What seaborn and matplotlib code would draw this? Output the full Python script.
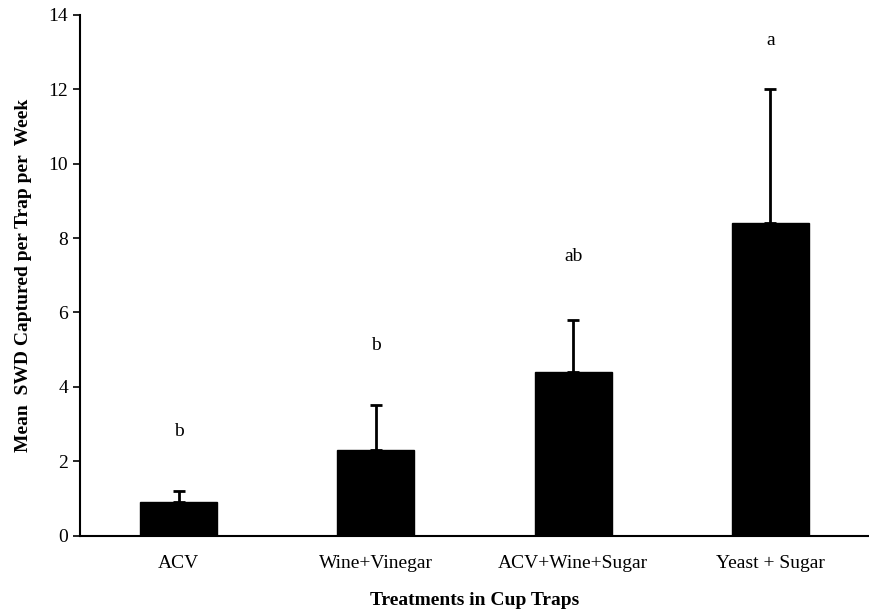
import numpy as np
import pandas as pd
import matplotlib
matplotlib.use("Agg")
import matplotlib.pyplot as plt
import seaborn as sns

# Data
treatments = ["ACV", "Wine+Vinegar", "ACV+Wine+Sugar", "Yeast + Sugar"]
means = [0.9, 2.3, 4.4, 8.4]
se = [0.3, 1.2, 1.4, 3.6]
letters = ["b", "b", "ab", "a"]
letter_y = [2.8, 5.1, 7.5, 13.3]

df = pd.DataFrame({"Treatment": treatments, "Mean": means})

sns.set_theme(style="white")
plt.rcParams["font.family"] = ["Liberation Serif", "DejaVu Serif"]
plt.rcParams["text.color"] = "black"
plt.rcParams["axes.labelcolor"] = "black"
plt.rcParams["xtick.color"] = "black"
plt.rcParams["ytick.color"] = "black"

fig = plt.figure(figsize=(8.69, 6.13), dpi=100)
ax = fig.add_axes([0.092, 0.126, 0.908, 0.85])

sns.barplot(data=df, x="Treatment", y="Mean", color="black", width=0.39,
            edgecolor="black", saturation=1, ax=ax)

x = np.arange(len(treatments))
ax.errorbar(x, means, yerr=[np.zeros(len(se)), se], fmt="none",
            ecolor="black", elinewidth=2, capsize=4, capthick=2)

for xi, lab, ly in zip(x, letters, letter_y):
    ax.text(xi, ly, lab, ha="center", va="center", fontsize=14)

ax.set_xlim(-0.5, 3.5)
ax.set_ylim(0, 14)
ax.set_yticks(np.arange(0, 15, 2))

# ticks between categories, labels under the bars
ax.set_xticks(x)
ax.set_xticklabels(treatments, fontsize=14)
ax.set_xticks(np.arange(0.5, 3.0, 1.0), minor=True)
ax.tick_params(axis="x", which="major", length=0, pad=14)
ax.tick_params(axis="x", which="minor", direction="out", length=5, width=1.2, color="black")
ax.tick_params(axis="y", direction="out", length=5, width=1.2, color="black",
               labelsize=14, left=True)

ax.set_xlabel("Treatments in Cup Traps", fontsize=14, fontweight="bold", labelpad=14)
ax.set_ylabel("Mean  SWD Captured per Trap per  Week", fontsize=14, fontweight="bold", labelpad=12)

for s in ["top", "right"]:
    ax.spines[s].set_visible(False)
for s in ["left", "bottom"]:
    ax.spines[s].set_color("black")
    ax.spines[s].set_linewidth(1.5)

fig.savefig("out.png", dpi=100)
